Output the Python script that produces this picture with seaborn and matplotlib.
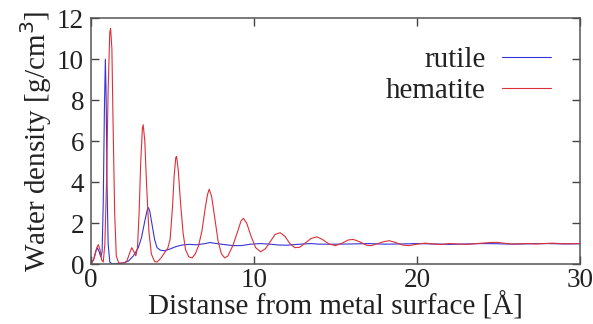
import numpy as np
import pandas as pd
import matplotlib
matplotlib.use('Agg')
import matplotlib.pyplot as plt
import seaborn as sns

# Dati: distanza [Å] e densità dell'acqua [g/cm^3]
hematite_x = [0.0, 0.2, 0.35, 0.45, 0.55, 0.65, 0.75, 0.85, 0.95, 1.05, 1.15, 1.2, 1.28, 1.35,
              1.45, 1.55, 1.7, 2.0, 2.2, 2.4, 2.5, 2.6, 2.75, 2.85, 2.95, 3.05, 3.15, 3.2, 3.3,
              3.4, 3.55, 3.7, 3.9, 4.05, 4.3, 4.55, 4.7, 4.85, 5.0, 5.1, 5.2, 5.25, 5.35, 5.5,
              5.65, 5.8, 6.0, 6.2, 6.4, 6.6, 6.8, 7.0, 7.15, 7.25, 7.4, 7.6, 7.8, 8.0, 8.2, 8.4,
              8.7, 9.0, 9.2, 9.35, 9.55, 9.8, 10.1, 10.4, 10.7, 11.0, 11.3, 11.6, 11.9, 12.2,
              12.5, 12.8, 13.1, 13.5, 13.85, 14.2, 14.6, 15.0, 15.4, 15.8, 16.1, 16.5, 16.9,
              17.2, 17.6, 18.0, 18.3, 18.7, 19.1, 19.5, 20.0, 20.5, 21.0, 21.5, 22.0, 22.5,
              23.0, 23.5, 24.0, 24.5, 24.9, 25.3, 25.8, 26.3, 26.8, 27.3, 27.8, 28.3, 28.8,
              29.3, 30.0]
hematite_y = [0.0, 0.3, 0.8, 0.95, 0.7, 0.2, 0.1, 1.0, 4.0, 8.5, 11.3, 11.5, 10.5, 7.0,
              2.5, 0.4, 0.05, 0.05, 0.15, 0.6, 0.8, 0.65, 0.4, 0.8, 2.5, 5.0, 6.6, 6.8, 6.0,
              4.0, 1.6, 0.5, 0.12, 0.1, 0.3, 0.6, 0.75, 1.2, 2.8, 4.3, 5.2, 5.25, 4.6, 2.9,
              1.5, 0.7, 0.35, 0.3, 0.5, 0.9, 1.6, 2.7, 3.4, 3.65, 3.3, 2.2, 1.1, 0.5, 0.3, 0.4,
              0.9, 1.6, 2.1, 2.23, 2.0, 1.4, 0.8, 0.6, 0.75, 1.1, 1.45, 1.53, 1.35, 1.0,
              0.8, 0.82, 1.0, 1.25, 1.33, 1.2, 0.98, 0.9, 1.02, 1.18, 1.2, 1.08, 0.92,
              0.9, 1.0, 1.1, 1.14, 1.05, 0.93, 0.9, 0.97, 1.02, 0.98, 0.96, 1.0, 0.98,
              0.96, 0.99, 1.02, 1.05, 1.06, 1.02, 0.98, 0.99, 1.0, 0.98, 1.0, 1.02, 1.0,
              0.99, 1.0]

rutile_x = [0.0, 0.15, 0.3, 0.4, 0.5, 0.6, 0.68, 0.75, 0.82, 0.88, 0.93, 0.98, 1.05, 1.15,
            1.3, 1.6, 2.0, 2.3, 2.6, 2.9, 3.1, 3.3, 3.45, 3.52, 3.6, 3.75, 3.9, 4.05, 4.25,
            4.5, 4.8, 5.2, 5.6, 6.0, 6.5, 7.0, 7.3, 7.7, 8.2, 8.7, 9.2, 9.8, 10.4, 11.0, 11.5,
            12.0, 12.5, 13.0, 13.5, 14.0, 15.0, 16.0, 17.0, 18.0, 19.0, 20.0, 21.0, 22.0,
            23.0, 24.0, 25.0, 26.0, 27.0, 28.0, 29.0, 30.0]
rutile_y = [0.0, 0.2, 0.65, 0.78, 0.6, 0.35, 0.6, 3.0, 7.5, 10.0, 8.0, 4.0, 1.0, 0.1,
            0.0, 0.02, 0.05, 0.15, 0.4, 0.8, 1.3, 2.1, 2.65, 2.75, 2.6, 1.9, 1.2, 0.8, 0.68,
            0.65, 0.72, 0.85, 0.93, 0.96, 0.94, 1.0, 1.05, 1.0, 0.95, 0.9, 0.9, 0.97, 1.0, 0.97, 0.93,
            0.92, 0.95, 0.98, 1.0, 0.97, 0.97, 0.98, 1.0, 0.97, 0.98, 1.0, 0.98, 0.96,
            0.98, 1.0, 0.99, 0.97, 0.99, 1.0, 0.98, 0.99]

df = pd.concat([
    pd.DataFrame({'x': rutile_x, 'y': rutile_y, 'serie': 'rutile'}),
    pd.DataFrame({'x': hematite_x, 'y': hematite_y, 'serie': 'hematite'}),
])

sns.set_style('ticks')
plt.rcParams['font.family'] = ['Liberation Serif', 'DejaVu Serif']

fig = plt.figure(figsize=(5.93, 3.24), dpi=100)
ax = fig.add_axes([0.1535, 0.185, 0.8246, 0.759])

colori = {'rutile': '#3535d8', 'hematite': '#dc3038'}
sns.lineplot(data=df, x='x', y='y', hue='serie', palette=colori, linewidth=0.8,
             sort=False, estimator=None, ax=ax)

ax.set_xlim(0, 30)
ax.set_ylim(0, 12)
ax.set_xticks([0, 10, 20, 30])
ax.set_yticks([0, 2, 4, 6, 8, 10, 12])
ax.tick_params(direction='in', length=6, width=1, top=True, right=True, pad=5,
               labelsize=19.5, colors='#444444', labelcolor='#222222')
ax.tick_params(axis='x', pad=3)
for s in ax.spines.values():
    s.set_visible(True)
    s.set_color('#555555')
    s.set_linewidth(1.1)

ax.set_xlabel('Distanse from metal surface [Å]', fontsize=21, labelpad=-1, color='#222222')
ax.set_ylabel('Water density [g/cm$^3$]', fontsize=21, labelpad=2, color='#222222')

ax.legend(loc='upper right', bbox_to_anchor=(0.965, 0.93), frameon=False, fontsize=21,
          markerfirst=False, handlelength=1.7, labelspacing=0.15, handletextpad=0.55,
          borderaxespad=0, labelcolor='#222222')

fig.savefig('out.png', dpi=100)
